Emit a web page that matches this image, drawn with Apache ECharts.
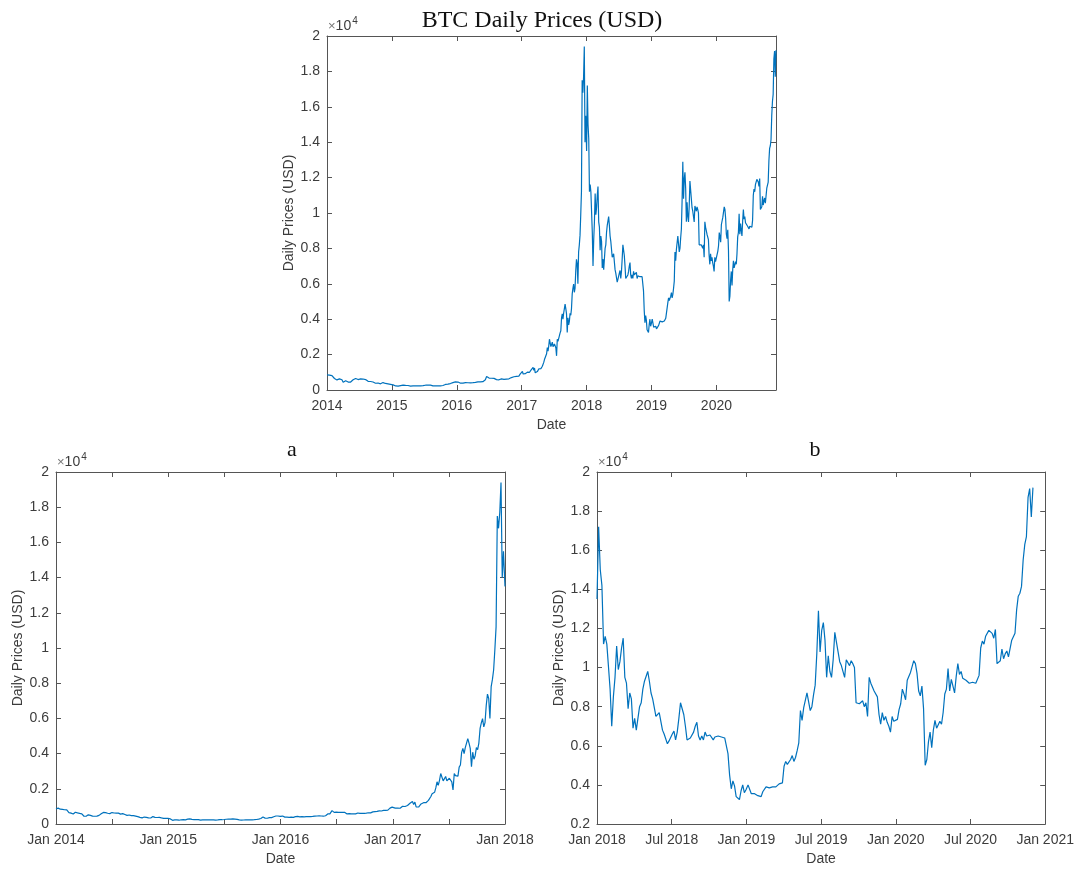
<!DOCTYPE html>
<html>
<head>
<meta charset="utf-8">
<script src="https://cdn.jsdelivr.net/npm/echarts@6/dist/echarts.min.js"></script>
<style>
html,body{margin:0;padding:0;background:#fff;}
#chart{width:1077px;height:869px;}
</style>
</head>
<body>
<div id="chart"></div>
<script>
// ---- Data (BTC daily prices in USD) ----
// 2014-2016 sampled weekly from Jan 1; 2017-2020 sampled every 4 days from Jan 1
const btc2014 = [850,900,840,830,810,800,650,620,570,670,630,600,580,440,440,520,490,450,440,450,490,580,660,650,610,590,650,625,620,620,560,590,540,490,510,480,480,450,420,380,350,395,380,350,340,420,380,370,375,345,320,320,315];
const btc2015 = [315,290,210,230,235,215,240,245,237,275,295,260,247,253,244,222,235,236,235,237,235,237,225,230,249,243,255,270,280,277,288,279,265,235,225,228,238,233,235,237,244,255,275,313,400,335,326,365,360,415,455,455,430];
const btc2016 = [434,450,390,385,380,386,380,420,430,410,420,408,416,417,420,430,450,455,460,455,442,470,570,580,760,660,675,660,665,660,655,575,585,577,577,575,625,607,602,609,617,640,632,688,702,715,750,740,770,770,785,900,960];
const btc2017 = [1000,1050,905,820,900,920,895,920,
  1010,1030,995,1000,1055,1125,1175,
  1230,1275,1110,1245,970,1050,965,1040,
  1140,1190,1210,1180,1210,1250,1340,
  1420,1560,1720,1720,1800,2050,2400,2200,
  2480,2870,2900,2450,2520,2700,2450,2480,
  2600,2510,2390,1930,2870,2750,2760,
  2720,3230,3350,4070,4300,4000,4350,4600,
  4850,4600,4300,3250,4080,3680,3880,4340,
  4220,4600,5430,5750,5990,5520,5760,
  6740,7380,7140,6000,7800,8200,8750,9900,
  11200,17500,16800,17700,19400,14000,15500,13900];
const btc2018 = [13500,17200,15000,14200,11200,11600,11200,11300,
  8900,7000,8500,9500,11100,9900,10300,
  11000,11500,9500,9200,7900,8700,8400,6900,
  7400,6800,6900,8000,8200,8900,9300,
  9200,9800,9300,8700,8400,8500,7500,7500,
  7700,7650,6800,6600,6700,6100,6250,6350,
  6600,6750,6300,6700,7400,8200,8200,
  7600,7000,6300,6300,6400,6500,6700,7000,
  7200,6500,6300,6500,6300,6700,6500,6600,
  6550,6650,6300,6450,6450,6500,6400,
  6450,6400,6400,6300,5600,4500,3800,4200,
  3950,3400,3400,3250,3700,4000,3600,3750];
const btc2019 = [3850,4000,4000,3550,3650,3550,3600,3450,
  3500,3400,3650,3600,3900,3950,3850,
  3850,3900,3950,3900,4000,4050,4000,4100,
  4950,5200,5050,5150,5300,5500,5200,
  5400,5750,6150,7800,7300,7950,8000,8700,
  8700,7800,8000,8600,9100,10700,12900,10800,
  11900,12300,11400,9500,10600,9800,9500,
  10400,11800,11900,10800,10300,10100,10100,9500,
  10400,10300,10100,10350,10200,10000,8200,8300,
  8150,8200,8300,8000,8200,7500,9500,
  9200,9300,8800,8750,8500,7600,7100,7700,
  7300,7500,7200,7000,6700,7500,7250,7200];
const btc2020 = [7200,7350,7850,8150,8900,8650,8350,9350,
  9350,9750,9850,10350,10200,9700,8800,
  8550,9050,7900,5000,5300,6200,6700,5900,
  6800,7300,6900,6850,7250,7100,7700,8650,
  8900,9950,8800,9400,9500,8700,9550,
  10200,9650,9800,9450,9450,9350,9250,9200,
  9100,9250,9250,9200,9200,9600,11000,11350,
  11200,11600,11600,11900,11800,11750,11500,
  11950,10200,10250,10350,10950,10450,10700,10850,
  10550,10650,11400,11500,11750,12950,13650,13800,
  14150,15500,16300,16700,18700,19150,17700,
  19200];
const yearBlocks = [
  {year:2014, step:7, values:btc2014},
  {year:2015, step:7, values:btc2015},
  {year:2016, step:7, values:btc2016},
  {year:2017, step:4, values:btc2017},
  {year:2018, step:4, values:btc2018},
  {year:2019, step:4, values:btc2019},
  {year:2020, step:4, values:btc2020}
];
const topYearTicks = ['2014','2015','2016','2017','2018','2019','2020'];
const monthNames = ['Jan','Jul'];

function daysIn(y){ return (y%4===0 && (y%100!==0 || y%400===0)) ? 366 : 365; }
const series = [];
yearBlocks.forEach(b => {
  b.values.forEach((v,i) => series.push([b.year + i*b.step/daysIn(b.year), v]));
});
const lastX = series[series.length-1][0];
const seriesA = series.filter(p => p[0] <= 2018);
const seriesB = series.filter(p => p[0] >= 2018);

// ---- styling ----
const axisColor = '#555555';
const textColor = '#3c3c3c';
const font = 'Liberation Sans';
const lineColor = '#0072BD';

const grids = [
  {left:327, top:36, width:449, height:354},
  {left:56, top:472, width:449, height:352},
  {left:597, top:472, width:449, height:352}
];

function yFmt(v){ return String(Math.round(v/1000)/10); }

function xBottom(gi, min, max, interval, fmt){
  return {
    type:'value', gridIndex:gi, position:'bottom', min:min, max:max, interval:interval,
    axisLine:{show:true, onZero:false, lineStyle:{color:axisColor, width:1}},
    axisTick:{show:true, inside:true, length:5, lineStyle:{color:axisColor}},
    axisLabel:{show:true, color:textColor, fontFamily:font, fontSize:14, margin:9, formatter:fmt, showMaxLabel:true, hideOverlap:false},
    splitLine:{show:false},
    name:'Date', nameLocation:'middle', nameGap:28,
    nameTextStyle:{color:textColor, fontFamily:font, fontSize:14}
  };
}
function xTop(gi, min, max, interval){
  return {
    type:'value', gridIndex:gi, position:'top', min:min, max:max, interval:interval,
    axisLine:{show:true, onZero:false, lineStyle:{color:axisColor, width:1}},
    axisTick:{show:true, inside:true, length:5, lineStyle:{color:axisColor}},
    axisLabel:{show:false}, splitLine:{show:false}
  };
}
function yLeft(gi, min, max){
  return {
    type:'value', gridIndex:gi, position:'left', min:min, max:max, interval:2000,
    axisLine:{show:true, onZero:false, lineStyle:{color:axisColor, width:1}},
    axisTick:{show:true, inside:true, length:5, lineStyle:{color:axisColor}},
    axisLabel:{show:true, color:textColor, fontFamily:font, fontSize:14, margin:7, formatter:yFmt},
    splitLine:{show:false},
    name:'Daily Prices (USD)', nameLocation:'middle', nameGap:31,
    nameTextStyle:{color:textColor, fontFamily:font, fontSize:14}
  };
}
function yRight(gi, min, max){
  return {
    type:'value', gridIndex:gi, position:'right', min:min, max:max, interval:2000,
    axisLine:{show:true, onZero:false, lineStyle:{color:axisColor, width:1}},
    axisTick:{show:true, inside:true, length:5, lineStyle:{color:axisColor}},
    axisLabel:{show:false}, splitLine:{show:false}
  };
}

const topFmt = v => (Math.abs(v-Math.round(v))<1e-6 && topYearTicks.indexOf(String(Math.round(v)))>=0) ? String(Math.round(v)) : '';
const aFmt = v => (Math.abs(v-Math.round(v))<1e-6) ? monthNames[0]+' '+Math.round(v) : '';
const bFmt = v => {
  const y = Math.floor(v+1e-6); const frac = v - y;
  if (Math.abs(frac)<1e-6) return monthNames[0]+' '+y;
  if (Math.abs(frac-0.5)<1e-6) return monthNames[1]+' '+y;
  return '';
};

function exponentLabel(x, y){
  return {
    type:'text', left:x, top:y, silent:true,
    style:{
      text:'{m|×}{t|10}{s|4}',
      rich:{
        m:{fontFamily:font, fontSize:13, fill:'#777', verticalAlign:'bottom'},
        t:{fontFamily:font, fontSize:14, fill:textColor, verticalAlign:'bottom'},
        s:{fontFamily:font, fontSize:10, fill:textColor, verticalAlign:'top', padding:[0,0,7,1]}
      }
    }
  };
}

const option = {
  backgroundColor:'#ffffff',
  animation:false,
  grid:grids,
  xAxis:[
    xBottom(0, 2014, lastX, 1, topFmt), xTop(0, 2014, lastX, 1),
    xBottom(1, 2014, 2018, 0.5, aFmt), xTop(1, 2014, 2018, 0.5),
    xBottom(2, 2018, 2021, 0.5, bFmt), xTop(2, 2018, 2021, 0.5)
  ],
  yAxis:[
    yLeft(0, 0, 20000), yRight(0, 0, 20000),
    yLeft(1, 0, 20000), yRight(1, 0, 20000),
    yLeft(2, 2000, 20000), yRight(2, 2000, 20000)
  ],
  series:[
    {type:'line', xAxisIndex:0, yAxisIndex:0, data:series, showSymbol:false, symbol:'none', clip:true, lineStyle:{color:lineColor, width:1.2}},
    {type:'line', xAxisIndex:2, yAxisIndex:2, data:seriesA, showSymbol:false, symbol:'none', clip:true, lineStyle:{color:lineColor, width:1.2}},
    {type:'line', xAxisIndex:4, yAxisIndex:4, data:seriesB, showSymbol:false, symbol:'none', clip:true, lineStyle:{color:lineColor, width:1.2}}
  ],
  title:[
    {text:'BTC Daily Prices (USD)', left:537, top:4, textAlign:'center',
      textStyle:{fontFamily:'Liberation Serif', fontSize:24, fontWeight:'normal', color:'#111'}},
    {text:'a', left:287, top:434, textAlign:'center',
      textStyle:{fontFamily:'Liberation Serif', fontSize:22, fontWeight:'normal', color:'#111'}},
    {text:'b', left:810, top:434, textAlign:'center',
      textStyle:{fontFamily:'Liberation Serif', fontSize:22, fontWeight:'normal', color:'#111'}}
  ],
  graphic:[
    exponentLabel(328, 16),
    exponentLabel(57, 452),
    exponentLabel(598, 452)
  ]
};

const chart = echarts.init(document.getElementById('chart'), null, {renderer:'canvas'});
chart.setOption(option);
</script>
</body>
</html>
